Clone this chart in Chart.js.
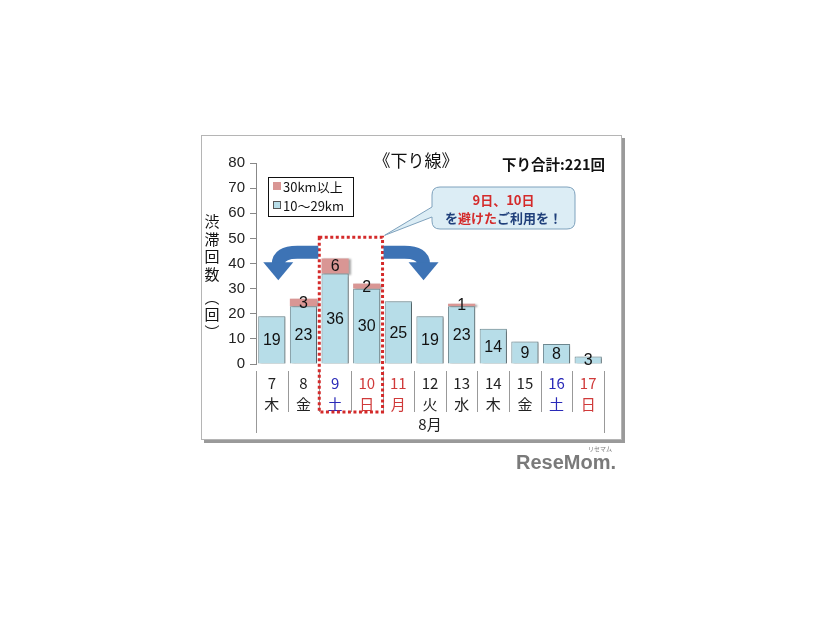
<!DOCTYPE html>
<html>
<head>
<meta charset="utf-8">
<script src="https://cdn.jsdelivr.net/npm/chart.js@4"></script>
<style>
  html, body { margin: 0; padding: 0; background: #fff; }
  #wrap { position: relative; width: 826px; height: 620px; }
</style>
</head>
<body>
<div id="wrap"><canvas id="chart" width="826" height="620"></canvas></div>
<script>
const days = ["7", "8", "9", "10", "11", "12", "13", "14", "15", "16", "17"];
const weekdays = ["木", "金", "土", "日", "月", "火", "水", "木", "金", "土", "日"];
const mid = [19, 23, 36, 30, 25, 19, 23, 14, 9, 8, 3];   // 10～29km
const far = [0, 3, 6, 2, 0, 0, 1, 0, 0, 0, 0];           // 30km以上
const seriesNames = ["10～29km", "30km以上"];

const JP = '"Noto Sans CJK JP", "Noto Sans", sans-serif';
const NUM = '"Liberation Sans", Arial, sans-serif';

function dayColor(i) {
  if (i === 2 || i === 9) return "#2a2ab8";
  if (i === 3 || i === 4 || i === 10) return "#d03a3a";
  return "#222";
}

const decor = {
  id: "decor",
  beforeDraw(chart) {
    const c = chart.ctx;
    c.save();
    c.fillStyle = "#fff";
    c.fillRect(0, 0, chart.width, chart.height);
    // frame with shadow
    c.fillStyle = "#9a9a9a";
    c.fillRect(204, 138, 421, 305);
    c.fillStyle = "#fff";
    c.fillRect(201, 135, 421, 305);
    c.strokeStyle = "#b5b5b5";
    c.lineWidth = 1;
    c.strokeRect(201.5, 135.5, 420, 304);
    c.restore();
  },
  beforeDatasetsDraw(chart) {
    const c = chart.ctx;
    c.save();
    c.shadowColor = "rgba(0,0,0,0.35)";
    c.shadowOffsetX = 2;
    c.shadowOffsetY = 1;
    c.shadowBlur = 2;
  },
  afterDatasetsDraw(chart) {
    const c = chart.ctx;
    c.restore();
    const x = chart.scales.x, y = chart.scales.y;
    const area = chart.chartArea;
    const step = x.getPixelForValue(1) - x.getPixelForValue(0);
    c.save();

    // value labels
    c.font = "16px " + NUM;
    c.fillStyle = "#111";
    c.textAlign = "center";
    c.textBaseline = "middle";
    chart.data.datasets.forEach((ds, di) => {
      chart.getDatasetMeta(di).data.forEach((el, i) => {
        if (!ds.data[i]) return;
        c.fillText(String(ds.data[i]), el.x, (el.y + el.base) / 2 + 1);
      });
    });

    // category separators under axis
    c.strokeStyle = "#999";
    c.lineWidth = 1;
    for (let i = 0; i <= days.length; i++) {
      const px = Math.round(area.left + i * step) + 0.5;
      const end = (i === 0 || i === days.length) ? 433 : 412;
      c.beginPath();
      c.moveTo(px, area.bottom + 7);
      c.lineTo(px, end);
      c.stroke();
    }
    c.font = "15px " + JP;
    c.fillStyle = "#222";
    c.fillText("8月", (area.left + area.right) / 2, 424);

    // dotted highlight round 9 and 10
    const rl = area.left + 2 * step, rr = area.left + 4 * step;
    const rt = y.getPixelForValue(50.4);
    c.strokeStyle = "#d42a2a";
    c.lineWidth = 3;
    c.setLineDash([3, 2.5]);
    c.strokeRect(rl, rt, rr - rl, 412 - rt);
    c.setLineDash([]);

    // arrows
    c.fillStyle = "#3d73b5";
    c.strokeStyle = "#3d73b5";
    c.lineWidth = 13;
    const ay = rt + 15;
    // left
    c.beginPath();
    c.moveTo(rl - 1, ay);
    c.lineTo(rl - 22, ay);
    c.quadraticCurveTo(rl - 41, ay, rl - 41, ay + 12);
    c.stroke();
    c.beginPath();
    c.moveTo(rl - 56, ay + 10);
    c.lineTo(rl - 26, ay + 10);
    c.lineTo(rl - 41, ay + 28);
    c.closePath();
    c.fill();
    // right
    c.beginPath();
    c.moveTo(rr + 1, ay);
    c.lineTo(rr + 22, ay);
    c.quadraticCurveTo(rr + 41, ay, rr + 41, ay + 12);
    c.stroke();
    c.beginPath();
    c.moveTo(rr + 56, ay + 10);
    c.lineTo(rr + 26, ay + 10);
    c.lineTo(rr + 41, ay + 28);
    c.closePath();
    c.fill();

    // callout bubble
    const bx = 432, by = 187, bw = 143, bh = 42, r = 8;
    c.beginPath();
    c.moveTo(bx + r, by);
    c.lineTo(bx + bw - r, by);
    c.quadraticCurveTo(bx + bw, by, bx + bw, by + r);
    c.lineTo(bx + bw, by + bh - r);
    c.quadraticCurveTo(bx + bw, by + bh, bx + bw - r, by + bh);
    c.lineTo(bx + r, by + bh);
    c.quadraticCurveTo(bx, by + bh, bx, by + bh - r);
    c.lineTo(bx, by + 30);
    c.lineTo(rr + 2, rt - 2);
    c.lineTo(bx, by + 20);
    c.lineTo(bx, by + r);
    c.quadraticCurveTo(bx, by, bx + r, by);
    c.closePath();
    c.fillStyle = "#dcedf5";
    c.fill();
    c.strokeStyle = "#7fa2bd";
    c.lineWidth = 1;
    c.stroke();

    c.font = "bold 13px " + JP;
    c.fillStyle = "#d42a2a";
    c.fillText("9日、10日", bx + bw / 2, by + 13);
    const parts = [["を", "#1f3f7a"], ["避けた", "#d42a2a"], ["ご利用を！", "#1f3f7a"]];
    let tw = 0;
    parts.forEach(p => tw += c.measureText(p[0]).width);
    let tx = bx + bw / 2 - tw / 2;
    c.textAlign = "left";
    parts.forEach(p => {
      c.fillStyle = p[1];
      c.fillText(p[0], tx, by + 31);
      tx += c.measureText(p[0]).width;
    });

    // title and total
    c.textAlign = "center";
    c.fillStyle = "#111";
    c.font = "17px " + JP;
    c.fillText("《下り線》", 416, 161);
    c.textAlign = "right";
    c.font = "bold 14.5px " + JP;
    c.fillText("下り合計:221回", 605, 164);

    // legend
    c.strokeStyle = "#111";
    c.lineWidth = 1;
    c.strokeRect(268.5, 177.5, 85, 39);
    c.fillStyle = "#d99694";
    c.fillRect(273, 182, 8, 8);
    c.fillStyle = "#b7dde8";
    c.fillRect(273, 201, 8, 8);
    c.strokeStyle = "#555";
    c.strokeRect(273.5, 201.5, 7, 7);
    c.textAlign = "left";
    c.fillStyle = "#111";
    c.font = "13px " + JP;
    c.fillText(seriesNames[1], 283, 187);
    c.fillText(seriesNames[0], 283, 206);

    // vertical axis title
    c.textAlign = "center";
    c.font = "15px " + JP;
    const vt = ["渋", "滞", "回", "数", "︵", "回", "︶"];
    const vy = [221, 239, 256, 274, 297, 314, 332];
    vt.forEach((ch, i) => c.fillText(ch, 212, vy[i]));

    // watermark
    c.textAlign = "right";
    c.fillStyle = "#7a7a7a";
    c.font = "bold 20px " + NUM;
    c.fillText("ReseMom.", 616, 463);
    c.font = "6px " + JP;
    c.fillText("リセマム", 612, 449);
    c.restore();
  }
};

new Chart(document.getElementById("chart"), {
  type: "bar",
  data: {
    labels: days.map((d, i) => [d, weekdays[i]]),
    datasets: [
      {
        label: seriesNames[0],
        data: mid,
        backgroundColor: "#b7dde8",
        borderColor: "#6f8a92",
        borderWidth: 1,
        barPercentage: 0.86,
        categoryPercentage: 1,
      },
      {
        label: seriesNames[1],
        data: far,
        backgroundColor: "#d99694",
        borderColor: "#c98a88",
        borderWidth: 0,
        barPercentage: 0.86,
        categoryPercentage: 1,
      },
    ],
  },
  options: {
    responsive: false,
    animation: false,
    layout: { padding: { left: 200, right: 222, top: 163, bottom: 176 } },
    plugins: {
      legend: { display: false },
      tooltip: { enabled: false },
    },
    scales: {
      x: {
        stacked: true,
        grid: { display: false },
        border: { display: false },
        afterFit(s) { s.height = 80; },
        ticks: {
          padding: 0,
          maxRotation: 0,
          autoSkip: false,
          font: { family: JP, size: 15, lineHeight: 1.45 },
          color: (ctx) => dayColor(ctx.index),
        },
      },
      y: {
        stacked: true,
        min: 0,
        max: 80,
        afterFit(s) { s.width = 56; },
        border: { display: true, color: "#888" },
        grid: { drawOnChartArea: false, drawTicks: true, tickLength: 6, color: "#888" },
        ticks: {
          stepSize: 10,
          padding: 5,
          color: "#222",
          font: { family: NUM, size: 15 },
        },
      },
    },
  },
  plugins: [decor],
});
</script>
</body>
</html>
